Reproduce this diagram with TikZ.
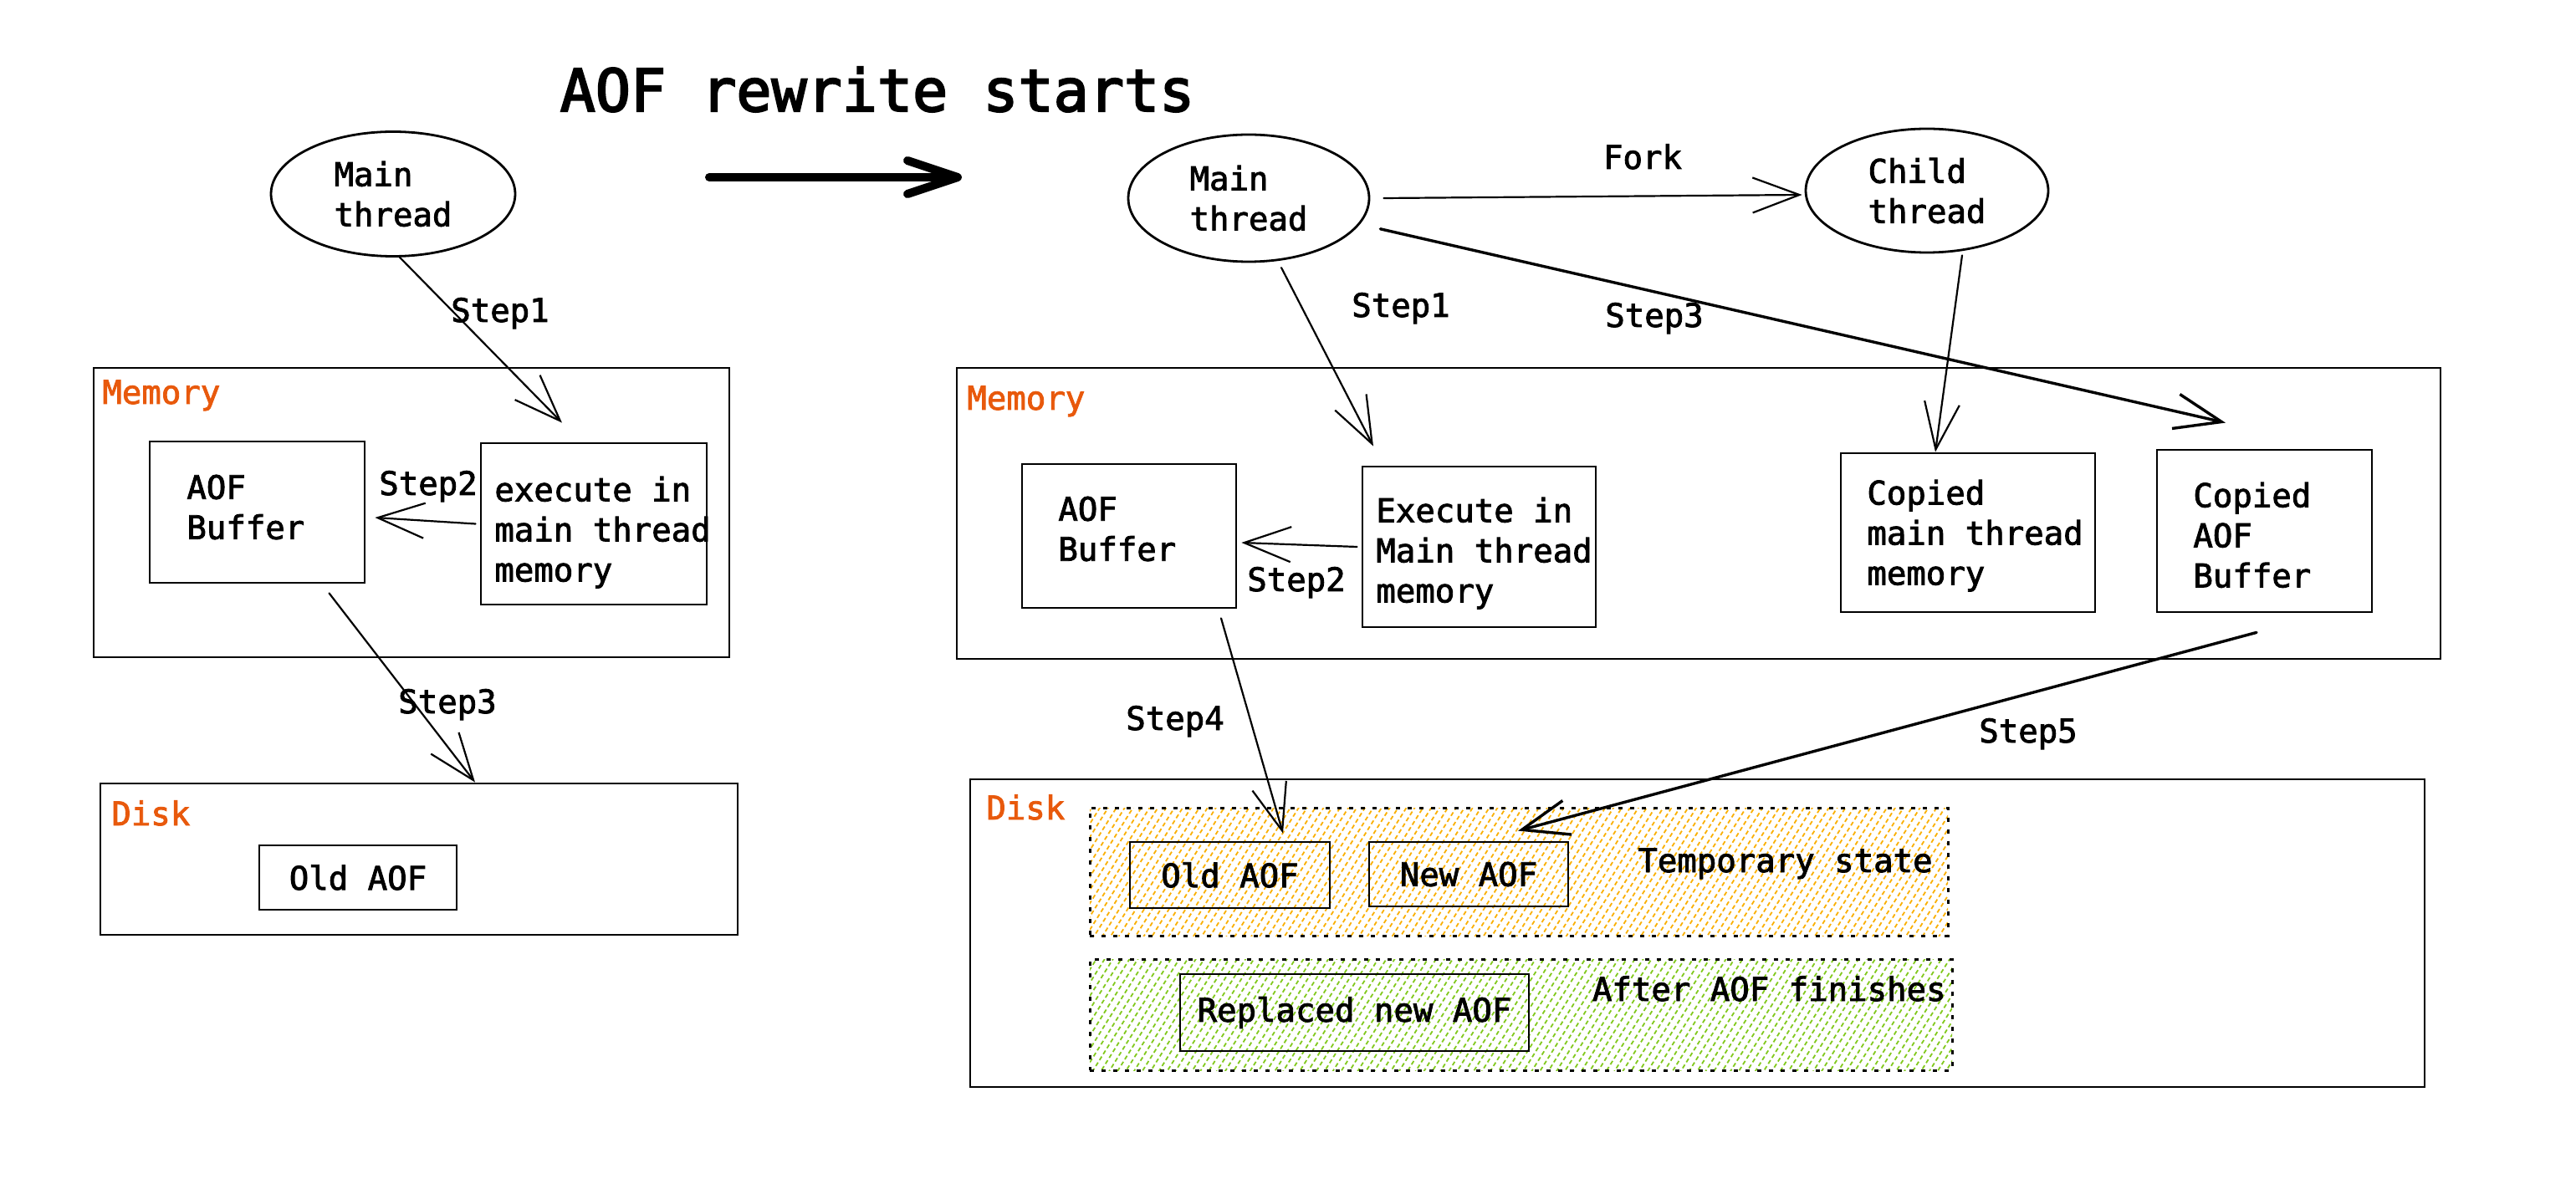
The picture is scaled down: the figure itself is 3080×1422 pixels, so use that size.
\documentclass[tikz,border=0pt]{standalone}
\usepackage{fontspec}
\newfontfamily\cas[FakeBold=2.2]{DejaVu Sans Mono}
\newfontfamily\castitle[FakeBold=3]{DejaVu Sans Mono}
\usetikzlibrary{arrows.meta,shapes.geometric,patterns.meta}
\definecolor{lbl}{HTML}{E8590C}
\definecolor{hy}{HTML}{FAB005}
\definecolor{hg}{HTML}{82C91E}
\newcommand\skfont{\cas\fontsize{19.5pt}{24pt}\selectfont}
\tikzset{
  sk/.style={draw=black, line width=1.4pt},
  boxn/.style={sk, rectangle, inner sep=0pt, font=\skfont},
  ell/.style={sk, ellipse, inner sep=0pt, align=left, font=\skfont},
  txt/.style={anchor=north west, inner sep=0pt, align=left, font=\skfont, execute at begin node=\strut},
  lab/.style={anchor=base, inner sep=0pt, font=\skfont},
  sec/.style={anchor=base west, inner sep=0pt, font=\skfont, text=lbl},
  conn/.style={line width=1.1pt, line cap=round, -{Straight Barb[length=28pt,width=21pt]}},
  bold/.style={line width=1.7pt},
  region/.style={draw=black, line width=1.5pt, dash pattern=on 2.5pt off 4.5pt, inner sep=0pt},
  hatch/.style={pattern={Lines[angle=58,distance=4.2pt,line width=0.9pt]}},
}
\begin{document}
\begin{tikzpicture}[x=0.5pt,y=-0.5pt]
\useasboundingbox (0,0) rectangle (3080,1422);

% ---------- title and transition arrow ----------
\node[lab, font=\castitle\fontsize{35pt}{42pt}\selectfont] (title) at (1049,133) {AOF rewrite starts};
\coordinate (ts) at (848,212);
\coordinate (te) at (1150,212);
\draw[line width=5pt, line cap=round, -{Straight Barb[length=30pt,width=20pt,round]}] (ts) -- (te);

% ---------- left: before rewrite ----------
\node[ell, minimum width=146pt, minimum height=74.5pt] (mt1) at (470,232) {Main\\thread};
\node[boxn, minimum width=380pt, minimum height=173pt] (mem1) at (492,613) {};
\node[sec] (mem1l) at (122,483) {Memory};
\node[boxn, minimum width=128.5pt, minimum height=84.5pt] (aof1) at (307.5,612.5) {};
\node[txt] (aof1t) at (223,567.4) {AOF\\Buffer};
\node[boxn, minimum width=135pt, minimum height=96.5pt] (ex1) at (710,626.5) {};
\node[txt] (ex1t) at (591,569.4) {execute in\\main thread\\memory};
\node[boxn, minimum width=381pt, minimum height=90.5pt] (disk1) at (501,1027.5) {};
\node[sec] (disk1l) at (133,987) {Disk};
\node[boxn, minimum width=118pt, minimum height=38.5pt] (old1) at (428,1049.5) {Old AOF};

\draw[conn] (mt1.-84) -- ([xshift=-19pt,yshift=11.5pt]ex1.north);
\node[lab] (s1l) at (598,385) {Step1};
\draw[conn] ([xshift=-2.5pt]ex1.west) -- ([xshift=5.5pt,yshift=-3.25pt]aof1.east);
\node[lab] (s2l) at (512,592) {Step2};
\draw[conn] ([xshift=43pt,yshift=-5.5pt]aof1.south) -- ([xshift=33.5pt]disk1.north);
\node[lab] (s3l) at (535,853) {Step3};

% ---------- right: during rewrite ----------
\node[ell, minimum width=144pt, minimum height=76pt] (mt2) at (1493,237) {Main\\thread};
\node[ell, minimum width=145pt, minimum height=74pt] (ct) at (2304,228) {Child\\thread};

\node[boxn, minimum width=887pt, minimum height=174pt] (mem2) at (2031,614) {};
\node[sec] (mem2l) at (1156,490) {Memory};
\node[boxn, minimum width=128pt, minimum height=86pt] (aof2) at (1350,641) {};
\node[txt] (aof2t) at (1265,593.4) {AOF\\Buffer};
\node[boxn, minimum width=139.5pt, minimum height=96pt] (ex2) at (1768.5,654) {};
\node[txt] (ex2t) at (1645,594.4) {Execute in\\Main thread\\memory};
\node[boxn, minimum width=152pt, minimum height=95pt] (cpm) at (2353,637) {};
\node[txt] (cpmt) at (2232,573.4) {Copied\\main thread\\memory};
\node[boxn, minimum width=128.5pt, minimum height=97pt] (cpa) at (2707.5,635) {};
\node[txt] (cpat) at (2622,576.4) {Copied\\AOF\\Buffer};

\node[boxn, minimum width=869.5pt, minimum height=184pt] (disk2) at (2029.5,1116) {};
\node[sec] (disk2l) at (1179,980) {Disk};
\node[region, minimum width=513pt, minimum height=76.5pt, hatch, pattern color=hy] (tmp) at (1816,1042.5) {};
\node[region, minimum width=515.5pt, minimum height=66.5pt, hatch, pattern color=hg] (aft) at (1818.5,1213.5) {};
\node[boxn, minimum width=119.5pt, minimum height=39.5pt] (old2) at (1470.5,1046.5) {Old AOF};
\node[boxn, minimum width=119pt, minimum height=38.5pt] (new2) at (1756,1045.5) {New AOF};
\node[boxn, minimum width=208.5pt, minimum height=46pt] (rep) at (1619.5,1211) {Replaced new AOF};
\node[lab, anchor=base east] (tmpt) at (2311,1043) {Temporary state};
\node[lab, anchor=base east] (aftt) at (2327,1197) {After AOF finishes};

\draw[conn] ([xshift=8pt]mt2.east) -- ([xshift=-1.5pt,yshift=-2.5pt]ct.west);
\node[lab] (fork) at (1964,202) {Fork};
\draw[conn] ([xshift=2pt,yshift=-4pt]mt2.-65) -- ([xshift=-63.25pt,yshift=11.5pt]ex2.north);
\node[lab] (s1r) at (1675,379) {Step1};
\draw[conn, bold] ([xshift=12pt,yshift=-3pt]mt2.-13) -- ([xshift=-23.25pt,yshift=15.5pt]cpa.north);
\node[lab] (s3r) at (1978,391) {Step3};
\draw[conn] ([xshift=21pt,yshift=-1pt]ct.south) -- ([xshift=-19.5pt]cpm.north);
\draw[conn] ([xshift=-2.5pt]ex2.west) -- ([xshift=2.5pt,yshift=-4pt]aof2.east);
\node[lab] (s2r) at (1550,707) {Step2};
\draw[conn] ([xshift=55pt,yshift=-5.5pt]aof2.south) -- ([xshift=31.75pt,yshift=4.5pt]old2.north);
\node[lab] (s4) at (1405,873) {Step4};
\draw[conn, bold] ([xshift=-4.75pt,yshift=-11.5pt]cpa.south) -- ([xshift=29.5pt,yshift=6pt]new2.north);
\node[lab] (s5) at (2425,888) {Step5};
\end{tikzpicture}
\end{document}
